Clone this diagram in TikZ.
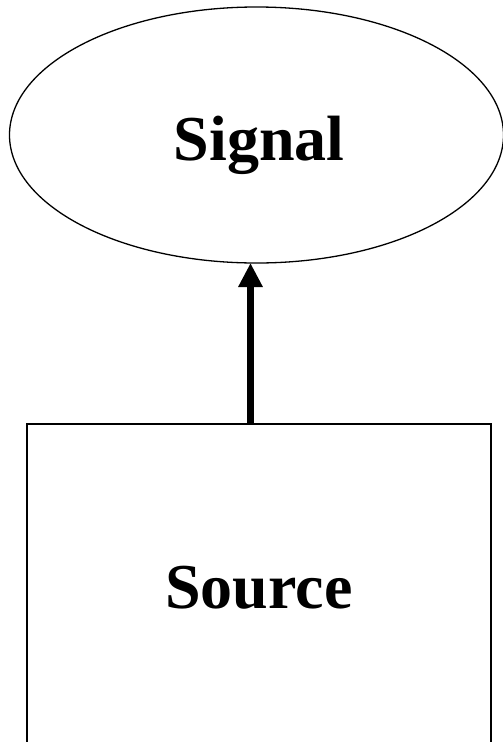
\documentclass[tikz,border=0pt]{standalone}
\usepackage{fontspec}
\setmainfont{Liberation Serif}
\usetikzlibrary{shapes.geometric,arrows.meta}
\begin{document}
\begin{tikzpicture}[x=1pt,y=-1pt,
  lbl/.style={font=\fontsize{64}{64}\selectfont\bfseries, inner sep=0pt, anchor=base},
  ell/.style={draw, ellipse, line width=1.3pt, minimum width=494pt, minimum height=256pt, inner sep=0pt},
  box/.style={draw, rectangle, line width=2pt, minimum width=464pt, minimum height=322pt, inner sep=0pt},
  conn/.style={line width=7pt, -{Triangle[length=24pt,width=23pt]}, shorten >=0pt}]
\useasboundingbox (0,0) rectangle (503,742);
\clip (0,0) rectangle (503,742);
\fill[white] (0,0) rectangle (503,742);
\node[ell] (sig) at (256.5,135) {};
\node[box] (src) at (259,585) {};
\node[lbl] (sigt) at (259,160) {Signal};
\node[lbl] (srct) at (259,608) {Source};
\coordinate (a0) at (250.5,424);
\coordinate (a1) at (250.5,263);
\draw[conn] (a0) -- (a1);
\end{tikzpicture}
\end{document}
